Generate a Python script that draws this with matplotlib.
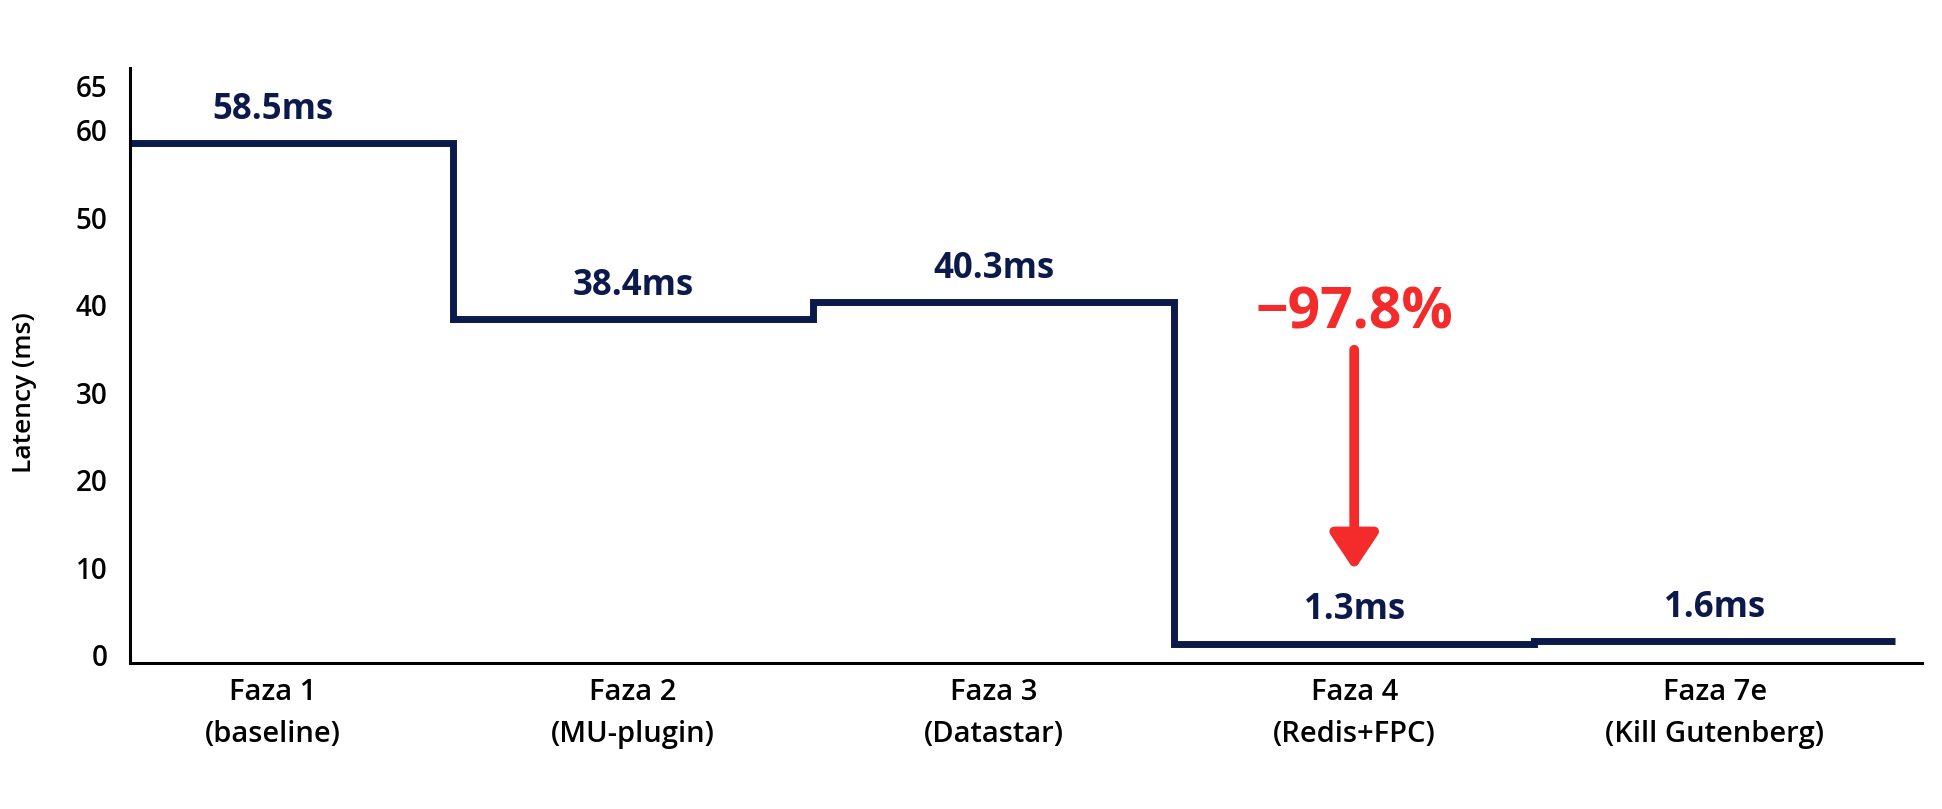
import matplotlib
matplotlib.use('Agg')
import matplotlib.pyplot as plt
import numpy as np

plt.rcParams['font.family'] = ['Open Sans', 'DejaVu Sans']

phases = ['Faza 1\n(baseline)', 'Faza 2\n(MU-plugin)', 'Faza 3\n(Datastar)',
          'Faza 4\n(Redis+FPC)', 'Faza 7e\n(Kill Gutenberg)']
latency = [58.5, 38.4, 40.3, 1.3, 1.6]
value_labels = ['58.5ms', '38.4ms', '40.3ms', '1.3ms', '1.6ms']
yticks = [0, 10, 20, 30, 40, 50, 60, 65]
drop_label = '\u221297.8%'

navy = '#0c1a4b'
red = '#f42b2b'

fig = plt.figure(figsize=(19.42, 8.09), dpi=100)
ax = fig.add_axes([0.0669, 0.1805, 0.9228, 0.7355])

x = np.arange(len(latency))
edges = np.arange(len(latency) + 1) - 0.5
ax.stairs(latency, edges, baseline=None, color=navy, linewidth=5, fill=False)

for xi, v, lab in zip(x, latency, value_labels):
    ax.annotate(lab, (xi, v), xytext=(0, 17.5), textcoords='offset points',
                ha='center', va='baseline', fontsize=25, fontweight='bold',
                color=navy)

# drop annotation
ax.annotate('', xy=(3, 9.7), xytext=(3, 34.9),
            arrowprops=dict(arrowstyle='-|>,head_length=1.08,head_width=0.72',
                            mutation_scale=20, lw=7, color=red,
                            shrinkA=0, shrinkB=0))
ax.text(3, 37.3, drop_label, ha='center', va='baseline', fontsize=41,
        fontweight='bold', color=red)

ax.set_xlim(-0.396, 4.575)
ax.set_ylim(-0.9, 67.1)
ax.set_xticks(x)
ax.set_xticklabels(phases, fontsize=21, fontweight='semibold', linespacing=1.6)
ax.set_yticks(yticks)
ax.set_yticklabels([str(t) for t in yticks], fontsize=20, fontweight='semibold')
ax.tick_params(axis='both', length=0)
ax.tick_params(axis='x', pad=11)
ax.tick_params(axis='y', pad=16)

ax.set_ylabel('Latency (ms)', fontsize=19, fontweight='semibold', va='center')
ax.yaxis.set_label_coords(-0.0586, 0.455)

for s in ['top', 'right']:
    ax.spines[s].set_visible(False)
for s in ['left', 'bottom']:
    ax.spines[s].set_linewidth(2.2)
    ax.spines[s].set_color('black')

plt.savefig('out.png', dpi=100)
